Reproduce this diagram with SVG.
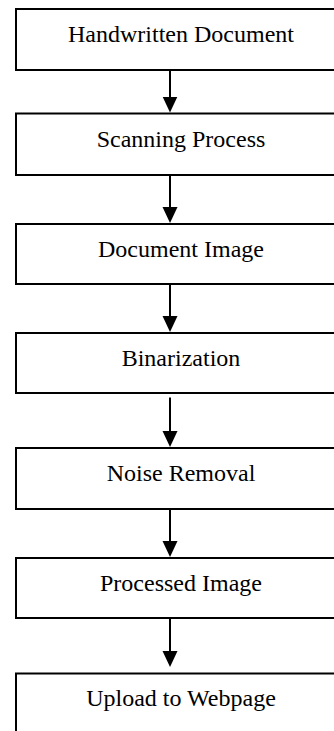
<svg xmlns="http://www.w3.org/2000/svg" width="334" height="731" viewBox="0 0 334 731">
  <style>
    .box { fill: #ffffff; stroke: #000000; stroke-width: 2; }
    .lbl { font-family: "Liberation Serif", "Times New Roman", serif; font-size: 24px; fill: #000000; text-anchor: middle; }
    .arr { stroke: #000000; stroke-width: 2; fill: none; marker-end: url(#head); }
  </style>
  <defs>
    <marker id="head" markerUnits="userSpaceOnUse" markerWidth="16" markerHeight="16" viewBox="0 0 16 16" refX="6" refY="8" orient="auto">
      <path d="M0,0.5 L16,8 L0,15.5 Z" fill="#000000"/>
    </marker>
  </defs>
  <rect width="334" height="731" fill="#ffffff"/>
  <g id="connectors">
    <line class="arr" x1="170" y1="70" x2="170" y2="102.5"/>
    <line class="arr" x1="170" y1="175" x2="170" y2="213"/>
    <line class="arr" x1="170" y1="284" x2="170" y2="322"/>
    <line class="arr" x1="170" y1="397.5" x2="170" y2="437"/>
    <line class="arr" x1="170" y1="509" x2="170" y2="547"/>
    <line class="arr" x1="170" y1="618" x2="170" y2="657"/>
  </g>
  <g id="n1">
    <rect class="box" x="16" y="9" width="340" height="61"/>
    <text class="lbl" x="181" y="42">Handwritten Document</text>
  </g>
  <g id="n2">
    <rect class="box" x="16" y="113.5" width="340" height="61.5"/>
    <text class="lbl" x="181" y="147">Scanning Process</text>
  </g>
  <g id="n3">
    <rect class="box" x="16" y="224" width="340" height="60"/>
    <text class="lbl" x="181" y="257">Document Image</text>
  </g>
  <g id="n4">
    <rect class="box" x="16" y="333" width="340" height="60"/>
    <text class="lbl" x="181" y="366">Binarization</text>
  </g>
  <g id="n5">
    <rect class="box" x="16" y="448" width="340" height="61"/>
    <text class="lbl" x="181" y="481">Noise Removal</text>
  </g>
  <g id="n6">
    <rect class="box" x="16" y="558" width="340" height="60"/>
    <text class="lbl" x="181" y="591">Processed Image</text>
  </g>
  <g id="n7">
    <rect class="box" x="16" y="673.5" width="340" height="80"/>
    <text class="lbl" x="181" y="706">Upload to Webpage</text>
  </g>
</svg>
